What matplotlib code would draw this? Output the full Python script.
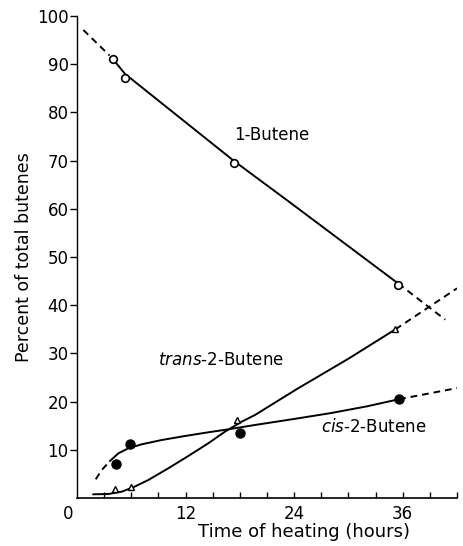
import matplotlib
matplotlib.use('agg')
from matplotlib import pyplot as plt

# measured points (hours, percent)
t_1butene = [4.0, 5.3, 17.4, 35.5]
v_1butene = [91.0, 87.2, 69.6, 44.2]
t_trans = [4.2, 6.0, 17.7, 35.2]
v_trans = [1.8, 2.3, 16.2, 35.0]
t_cis = [4.3, 5.9, 18.0, 35.6]
v_cis = [7.1, 11.3, 13.4, 20.5]

# hand-drawn curves: solid part and dashed extensions
c1_solid_t = [4.0, 5.3, 17.3, 23.2, 35.5]
c1_solid_v = [91.0, 88.0, 70.0, 61.8, 44.5]
c1_dash_t = [[0.7, 3.6], [35.5, 40.7]]
c1_dash_v = [[97.1, 91.8], [44.5, 37.0]]

tr_solid_t = [1.8, 3.46, 4.94, 6.22, 7.88, 10.09, 12.3, 14.51, 16.35, 18.2, 19.67, 24.3, 30.0, 35.2]
tr_solid_v = [0.77, 0.83, 1.31, 2.22, 3.73, 6.16, 8.71, 11.35, 13.76, 15.83, 17.22, 22.6, 28.9, 35.0]
tr_dash_t = [[35.2, 42.0]]
tr_dash_v = [[35.0, 43.5]]

cis_solid_t = [3.65, 4.57, 5.67, 7.15, 9.36, 11.93, 14.51, 16.72, 19.67, 24.0, 28.0, 32.0, 35.6]
cis_solid_v = [7.68, 9.27, 10.3, 11.14, 12.03, 12.86, 13.63, 14.25, 15.15, 16.4, 17.6, 19.0, 20.5]
cis_dash_t = [[2.07, 2.73, 3.65], [35.6, 42.0]]
cis_dash_v = [[3.88, 5.8, 7.68], [20.5, 22.8]]

y_ticks = [10, 20, 30, 40, 50, 60, 70, 80, 90, 100]
x_ticks = list(range(3, 43, 3))
x_labels = ['12', '24', '36']

fig = plt.figure(figsize=(4.63, 5.46), dpi=100)
ax = fig.add_axes([77 / 463, 48 / 546, 380 / 463, 482 / 546])

lw = 1.4
ax.plot(c1_solid_t, c1_solid_v, color='black', lw=lw)
ax.plot(tr_solid_t, tr_solid_v, color='black', lw=lw)
ax.plot(cis_solid_t, cis_solid_v, color='black', lw=lw)
for tt, vv in zip(c1_dash_t + tr_dash_t + cis_dash_t, c1_dash_v + tr_dash_v + cis_dash_v):
    ax.plot(tt, vv, color='black', lw=lw, linestyle=(0, (3.5, 2.5)))

ax.plot(t_1butene, v_1butene, 'o', ms=5.5, mfc='white', mec='black', mew=1.2)
ax.plot(t_trans, v_trans, '^', ms=4, mfc='white', mec='black', mew=1.0)
ax.plot(t_cis, v_cis, 'o', ms=6.5, mfc='black', mec='black')

ax.set_xlim(0, 42)
ax.set_ylim(0, 100)
ax.spines['top'].set_visible(False)
ax.spines['right'].set_visible(False)
ax.spines['left'].set_linewidth(1.0)
ax.spines['left'].set_linestyle((0, (4, 1)))
ax.spines['bottom'].set_linewidth(1.2)

ax.set_yticks(y_ticks)
ax.set_yticklabels([str(v) for v in y_ticks], fontsize=12)
ax.tick_params(axis='y', direction='out', length=5, width=1, pad=1)
ax.set_xticks(x_ticks)
ax.set_xticklabels([str(x) if str(x) in x_labels else '' for x in x_ticks], fontsize=12)
ax.tick_params(axis='x', direction='in', length=4, width=1, pad=5)

ax.text(-1.0, -3.3, '0', fontsize=12, ha='center', va='center')

ax.text(21.5, 75.3, '1-Butene', fontsize=12, ha='center', va='center')
ax.text(9.0, 28.6, r'$\mathit{trans}$-2-Butene', fontsize=12, ha='left', va='center')
ax.text(27.0, 14.8, r'$\mathit{cis}$-2-Butene', fontsize=12, ha='left', va='center')

ax.set_ylabel('Percent of total butenes', fontsize=12.5, labelpad=3)
ax.text(25.1, -5.2, 'Time of heating (hours)', fontsize=13, ha='center', va='top')

fig.savefig('out.png', dpi=100, facecolor='white')
